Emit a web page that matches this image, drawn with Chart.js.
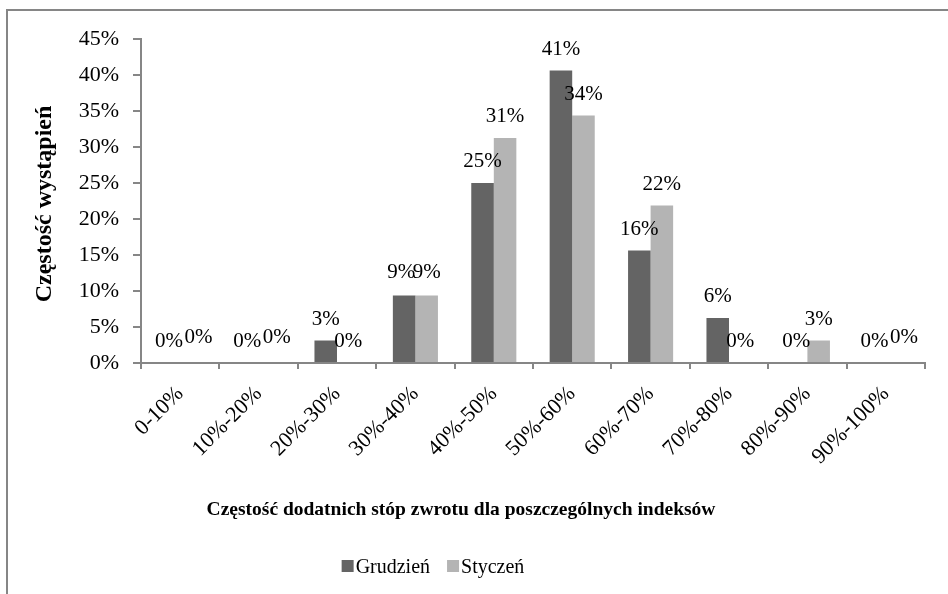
<!DOCTYPE html>
<html>
<head>
<meta charset="utf-8">
<script src="https://cdn.jsdelivr.net/npm/chart.js@4/dist/chart.umd.min.js"></script>
<style>
  html, body { margin: 0; padding: 0; background: #ffffff; }
  #wrap { width: 948px; height: 594px; position: relative; }
</style>
</head>
<body>
<div id="wrap"><canvas id="c" width="948" height="594"></canvas></div>
<script>
const categories = ['0-10%', '10%-20%', '20%-30%', '30%-40%', '40%-50%', '50%-60%', '60%-70%', '70%-80%', '80%-90%', '90%-100%'];
const grudzien = [0, 0, 0.03125, 0.09375, 0.25, 0.40625, 0.15625, 0.0625, 0, 0];
const styczen  = [0, 0, 0, 0.09375, 0.3125, 0.34375, 0.21875, 0, 0.03125, 0];
const seriesNames = ['Grudzień', 'Styczeń'];
const yTickLabels = ['0%', '5%', '10%', '15%', '20%', '25%', '30%', '35%', '40%', '45%'];
const yAxisTitle = 'Częstość wystąpień';
const xAxisTitle = 'Częstość dodatnich stóp zwrotu dla poszczególnych indeksów';

const FONT = '"Liberation Serif", "Times New Roman", serif';
const AXIS_COLOR = '#868686';
const COLORS = ['#646464', '#b4b4b4'];

const framePlugin = {
  id: 'frame',
  beforeDraw(chart) {
    const ctx = chart.ctx;
    ctx.save();
    ctx.fillStyle = '#ffffff';
    ctx.fillRect(0, 0, chart.width, chart.height);
    ctx.strokeStyle = AXIS_COLOR;
    ctx.lineWidth = 2;
    ctx.beginPath();
    ctx.moveTo(7, chart.height + 2);
    ctx.lineTo(7, 10);
    ctx.lineTo(chart.width + 2, 10);
    ctx.stroke();
    ctx.restore();
  }
};

const titlesPlugin = {
  id: 'axisTitles',
  afterDraw(chart) {
    const ctx = chart.ctx;
    const area = chart.chartArea;
    ctx.save();
    ctx.fillStyle = '#000000';
    ctx.textAlign = 'center';
    ctx.textBaseline = 'middle';
    ctx.font = 'bold 19.5px ' + FONT;
    ctx.fillText(xAxisTitle, 461, 510);
    ctx.translate(45, (area.top + area.bottom) / 2 + 3);
    ctx.rotate(-Math.PI / 2);
    ctx.font = 'bold 24px ' + FONT;
    ctx.fillText(yAxisTitle, 0, 0);
    ctx.restore();
  }
};

const labelPlugin = {
  id: 'valueLabels',
  afterDatasetsDraw(chart) {
    const ctx = chart.ctx;
    ctx.save();
    ctx.font = '21px ' + FONT;
    ctx.fillStyle = '#000000';
    ctx.textAlign = 'center';
    ctx.textBaseline = 'alphabetic';
    const m0 = chart.getDatasetMeta(0), m1 = chart.getDatasetMeta(1);
    const d0 = chart.data.datasets[0].data, d1 = chart.data.datasets[1].data;
    for (let i = 0; i < d0.length; i++) {
      let dx0 = 0, dy0 = 0, dx1 = 0, dy1 = 0;
      if (d0[i] === d1[i]) {
        if (d0[i] === 0) { dx1 = 7; dy1 = -4; }
        else { dx0 = -3; dy0 = -2; dy1 = -2; }
      }
      const b0 = m0.data[i], b1 = m1.data[i];
      ctx.fillText(Math.round(d0[i] * 100) + '%', b0.x + dx0, b0.y - 16 + dy0);
      ctx.fillText(Math.round(d1[i] * 100) + '%', b1.x + dx1, b1.y - 16 + dy1);
    }
    ctx.restore();
  }
};

const legendPlugin = {
  id: 'customLegend',
  afterDraw(chart) {
    const ctx = chart.ctx;
    ctx.save();
    ctx.font = '20px ' + FONT;
    ctx.textBaseline = 'alphabetic';
    ctx.textAlign = 'left';
    const box = 12, gap = 2, itemGap = 17;
    const widths = chart.data.datasets.map(ds => box + gap + ctx.measureText(ds.label).width);
    const total = widths.reduce((a, b) => a + b, 0) + itemGap * (widths.length - 1);
    let x = 433 - total / 2;
    const baseline = 573;
    chart.data.datasets.forEach((ds, i) => {
      ctx.fillStyle = ds.backgroundColor;
      ctx.fillRect(x, baseline - 13, box, box);
      ctx.fillStyle = '#000000';
      ctx.fillText(ds.label, x + box + gap, baseline);
      x += widths[i] + itemGap;
    });
    ctx.restore();
  }
};

new Chart(document.getElementById('c'), {
  type: 'bar',
  data: {
    labels: categories,
    datasets: [
      { label: seriesNames[0], data: grudzien, backgroundColor: COLORS[0], borderWidth: 0 },
      { label: seriesNames[1], data: styczen, backgroundColor: COLORS[1], borderWidth: 0 }
    ]
  },
  options: {
    responsive: false,
    animation: false,
    devicePixelRatio: 1,
    layout: { padding: { left: 0, top: 39, right: 23, bottom: 0 } },
    datasets: { bar: { categoryPercentage: 0.575, barPercentage: 1.0 } },
    plugins: {
      legend: { display: false },
      tooltip: { enabled: false },
      title: { display: false }
    },
    scales: {
      x: {
        type: 'category',
        offset: true,
        grid: { offset: true, drawOnChartArea: false, drawTicks: true, tickLength: 6, color: AXIS_COLOR, lineWidth: 2 },
        border: { display: true, color: AXIS_COLOR, width: 2 },
        ticks: { color: '#000000', font: { family: FONT, size: 22 }, minRotation: 45, maxRotation: 45, padding: 12, autoSkip: false },
        afterFit(scale) { scale.height = 594 - 363; }
      },
      y: {
        min: 0,
        max: 0.45,
        grid: { drawOnChartArea: false, drawTicks: true, tickLength: 8, color: AXIS_COLOR, lineWidth: 2 },
        border: { display: true, color: AXIS_COLOR, width: 2 },
        ticks: { stepSize: 0.05, color: '#000000', font: { family: FONT, size: 22 }, padding: 14,
          callback: (v, i) => yTickLabels[i] },
        afterFit(scale) { scale.width = 141; }
      }
    }
  },
  plugins: [framePlugin, labelPlugin, titlesPlugin, legendPlugin]
});
</script>
</body>
</html>
